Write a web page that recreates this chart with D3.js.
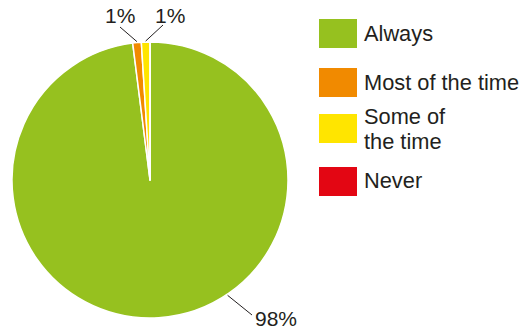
<!DOCTYPE html>
<html><head><meta charset="utf-8">
<script src="https://cdn.jsdelivr.net/npm/d3@7"></script>
<style>body{margin:0;background:#fff}svg{display:block}text{font-family:"Liberation Sans",Arial,sans-serif;fill:#231f20}</style>
</head><body><svg id="c" width="532" height="329"></svg>
<script>
const categories = ["Always", "Most of the time", "Some of the time", "Never"];
const legendLines = [["Always"], ["Most of the time"], ["Some of", "the time"], ["Never"]];
const values = [98, 1, 1, 0];
const labels = ["98%", "1%", "1%", ""];
const colors = ["#96c11f", "#f18a00", "#ffe500", "#e30613"];

const svg = d3.select("#c");
const cx = 150, cy = 180, R = 138;
const pie = d3.pie().sort(null).value(d => d)(values);
const arc = d3.arc().innerRadius(0).outerRadius(R);
const g = svg.append("g").attr("transform", `translate(${cx},${cy})`);
g.selectAll("path").data(pie).enter().append("path")
  .attr("d", arc).attr("fill", (d, i) => colors[i])
  .attr("stroke", "#fff").attr("stroke-width", 1.5).attr("stroke-linejoin", "round");

// label leader layout (fraction along slice where the line starts, line end, text pos)
const labelLayout = [
  {t: 0.414, line2: [102, 135], tx: [105, 146]},
  {t: 0.5, line2: [-30, -153], tx: [-45, -157]},
  {t: 0.5, line2: [13, -155], tx: [5, -157]},
  null
];
pie.forEach((d, i) => {
  const L = labelLayout[i];
  if (!L || !labels[i]) return;
  const a = d.startAngle + (d.endAngle - d.startAngle) * L.t;
  const x1 = Math.sin(a) * (R + 1), y1 = -Math.cos(a) * (R + 1);
  g.append("line").attr("x1", x1).attr("y1", y1)
    .attr("x2", L.line2[0]).attr("y2", L.line2[1])
    .attr("stroke", "#231f20").attr("stroke-width", 1);
  g.append("text").attr("x", L.tx[0]).attr("y", L.tx[1])
    .attr("font-size", 21).attr("text-anchor", "start").text(labels[i]);
});

// legend
const legY = [19, 68, 114, 167];
const lg = svg.append("g");
categories.forEach((c, i) => {
  lg.append("rect").attr("x", 319).attr("y", legY[i]).attr("width", 38).attr("height", 29).attr("fill", colors[i]);
  const t = lg.append("text").attr("x", 364).attr("font-size", 21.8);
  const base = [41, 90, 124, 188][i];
  legendLines[i].forEach((s, j) => {
    t.append("tspan").attr("x", 364).attr("y", base + j * 25).text(s);
  });
});
</script></body></html>
